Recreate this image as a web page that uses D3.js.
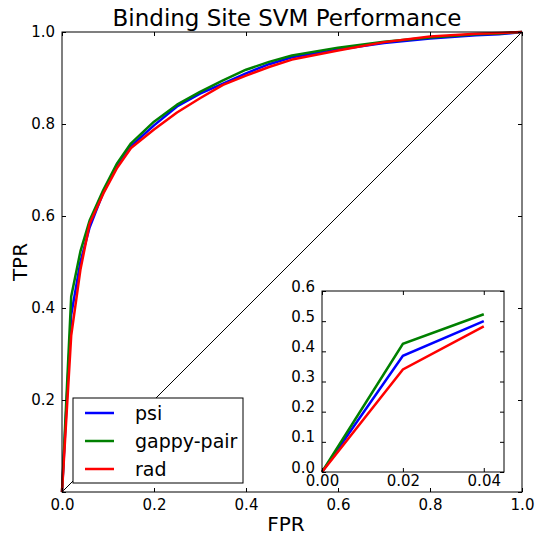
<!DOCTYPE html>
<html>
<head>
<meta charset="utf-8">
<script src="https://cdn.jsdelivr.net/npm/d3@7"></script>
<style>
  body { margin: 0; background: #fff; }
  text { font-family: "DejaVu Sans", sans-serif; fill: #000; }
</style>
</head>
<body>
<svg id="chart" width="538" height="535"></svg>
<script>
// ROC points
const fpr = [0, 0.02, 0.04, 0.06, 0.09, 0.12, 0.15, 0.2, 0.25, 0.3, 0.35, 0.4, 0.45, 0.5, 0.6, 0.7, 0.8, 0.9, 0.95, 1.0];
const tprPsi = [0, 0.385, 0.5, 0.575, 0.652, 0.71, 0.752, 0.797, 0.838, 0.866, 0.888, 0.91, 0.93, 0.945, 0.962, 0.976, 0.986, 0.993, 0.995, 1.0];
const tprGappy = [0, 0.425, 0.523, 0.59, 0.657, 0.715, 0.758, 0.805, 0.842, 0.87, 0.895, 0.918, 0.935, 0.949, 0.966, 0.979, 0.988, 0.995, 0.997, 1.0];
const tprRad = [0, 0.34, 0.483, 0.583, 0.649, 0.705, 0.748, 0.788, 0.825, 0.856, 0.885, 0.905, 0.924, 0.94, 0.96, 0.978, 0.99, 0.996, 0.998, 1.0];

// zoomed inset
const insetFpr = [0, 0.02, 0.04];
const insetPsi = [0, 0.385, 0.5];
const insetGappy = [0, 0.425, 0.523];
const insetRad = [0, 0.34, 0.483];

const seriesNames = ["psi", "gappy-pair", "rad"];
const seriesColors = ["#0000ff", "#008000", "#ff0000"];
const mainTicks = [0, 0.2, 0.4, 0.6, 0.8, 1.0];
const insetXTicks = [0, 0.02, 0.04];
const insetYTicks = [0, 0.1, 0.2, 0.3, 0.4, 0.5, 0.6];

const svg = d3.select("#chart");
const mainSeries = [tprPsi, tprGappy, tprRad];
const insetSeries = [insetPsi, insetGappy, insetRad];

// main axes
const box = {left: 62, top: 32, width: 460, height: 460};
const x = d3.scaleLinear().domain([0, 1]).range([box.left, box.left + box.width]);
const y = d3.scaleLinear().domain([0, 1]).range([box.top + box.height, box.top]);

svg.append("text")
    .attr("x", 287)
    .attr("y", 26)
    .attr("text-anchor", "middle")
    .style("font-size", "23px")
    .text("Binding Site SVM Performance");

// diagonal chance line
svg.append("line")
    .attr("x1", x(0)).attr("y1", y(0))
    .attr("x2", x(1)).attr("y2", y(1))
    .attr("stroke", "#000").attr("stroke-width", 1);

const line = d3.line()
    .x(function(d) { return x(d[0]); })
    .y(function(d) { return y(d[1]); });

mainSeries.forEach(function(s, i) {
  svg.append("path")
      .attr("d", line(fpr.map(function(f, j) { return [f, s[j]]; })))
      .attr("fill", "none")
      .attr("stroke", seriesColors[i])
      .attr("stroke-width", 2.5)
      .attr("stroke-linejoin", "round");
});

function frame(g, xs, ys, xt, yt, xfmt, yfmt, yLabelFilter) {
  const [x0, x1] = xs.range();
  const [y0, y1] = ys.range();
  g.append("rect")
      .attr("x", x0).attr("y", y1)
      .attr("width", x1 - x0).attr("height", y0 - y1)
      .attr("fill", "none").attr("stroke", "#000").attr("stroke-width", 1);
  g.append("g")
      .attr("transform", "translate(0," + y0 + ")")
      .call(d3.axisBottom(xs).tickValues(xt).tickFormat(xfmt).tickSize(-4).tickPadding(7));
  g.append("g")
      .attr("transform", "translate(0," + y1 + ")")
      .call(d3.axisTop(xs).tickValues(xt).tickFormat("").tickSize(-4));
  g.append("g")
      .attr("transform", "translate(" + x0 + ",0)")
      .call(d3.axisLeft(ys).tickValues(yt).tickFormat(function(d) { return yLabelFilter(d) ? yfmt(d) : ""; }).tickSize(-4).tickPadding(7));
  g.append("g")
      .attr("transform", "translate(" + x1 + ",0)")
      .call(d3.axisRight(ys).tickValues(yt).tickFormat("").tickSize(-4));
  g.selectAll(".domain").remove();
  g.selectAll(".tick line").attr("stroke", "#000");
  g.selectAll(".tick text").style("font-size", "15px").attr("font-family", null);
}

const mainAxes = svg.append("g");
frame(mainAxes, x, y, mainTicks, mainTicks, d3.format(".1f"), d3.format(".1f"), function(d) { return d > 0; });

svg.append("text")
    .attr("x", 286)
    .attr("y", 531)
    .attr("text-anchor", "middle")
    .style("font-size", "20px")
    .text("FPR");

svg.append("text")
    .attr("transform", "translate(27," + (box.top + box.height / 2) + ") rotate(-90)")
    .attr("text-anchor", "middle")
    .style("font-size", "20px")
    .text("TPR");

// legend
const legend = svg.append("g").attr("transform", "translate(73,398)");
legend.append("rect")
    .attr("width", 170).attr("height", 85)
    .attr("fill", "#fff").attr("stroke", "#000").attr("stroke-width", 1);
seriesNames.forEach(function(name, i) {
  const row = legend.append("g").attr("transform", "translate(0," + (15 + i * 28) + ")");
  row.append("line")
      .attr("x1", 12).attr("x2", 41)
      .attr("stroke", seriesColors[i]).attr("stroke-width", 2.5);
  row.append("text")
      .attr("x", 62).attr("dy", "0.35em")
      .style("font-size", "19px")
      .text(name);
});

// inset
const ix = d3.scaleLinear().domain([0, 0.045]).range([322, 504]);
const iy = d3.scaleLinear().domain([0, 0.6]).range([472, 291]);
const inset = svg.append("g");
inset.append("rect")
    .attr("x", 322).attr("y", 291).attr("width", 182).attr("height", 181)
    .attr("fill", "#fff");
const iline = d3.line()
    .x(function(d) { return ix(d[0]); })
    .y(function(d) { return iy(d[1]); });
insetSeries.forEach(function(s, i) {
  inset.append("path")
      .attr("d", iline(insetFpr.map(function(f, j) { return [f, s[j]]; })))
      .attr("fill", "none")
      .attr("stroke", seriesColors[i])
      .attr("stroke-width", 2.5);
});
frame(inset, ix, iy, insetXTicks, insetYTicks, d3.format(".2f"), d3.format(".1f"), function() { return true; });
inset.selectAll(".tick text").attr("dy", null);
inset.selectAll("g").filter(function() { return this.getAttribute("transform") === "translate(0,472)"; })
    .selectAll(".tick text").attr("y", 0).attr("dy", "0.9em");
</script>
</body>
</html>
